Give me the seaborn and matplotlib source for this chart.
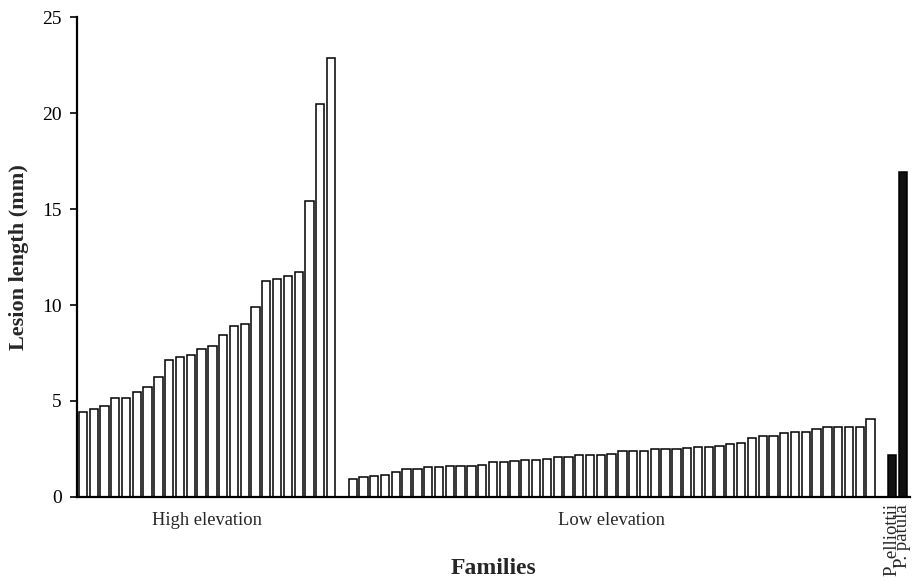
import matplotlib
matplotlib.use("Agg")
import matplotlib.pyplot as plt
import numpy as np
import pandas as pd
import seaborn as sns

# Mean lesion length (mm) per family, sorted within each seed-source group
high_elevation = [4.41, 4.6, 4.74, 5.14, 5.14, 5.47, 5.71, 6.23, 7.15, 7.28,
                  7.4, 7.72, 7.87, 8.44, 8.91, 9.03, 9.88, 11.26, 11.38, 11.52,
                  11.73, 15.41, 20.45, 22.85]
low_elevation = [0.92, 1.02, 1.09, 1.16, 1.28, 1.44, 1.44, 1.55, 1.55, 1.62,
                 1.62, 1.62, 1.68, 1.81, 1.81, 1.88, 1.94, 1.94, 2.0, 2.07,
                 2.07, 2.2, 2.2, 2.2, 2.26, 2.4, 2.41, 2.41, 2.48, 2.48,
                 2.48, 2.53, 2.6, 2.6, 2.67, 2.74, 2.8, 3.06, 3.19, 3.19,
                 3.33, 3.39, 3.39, 3.52, 3.65, 3.65, 3.65, 3.65, 4.05]
check_names = ["P. elliottii", "P. patula"]
check_values = [2.2, 16.95]
group_labels = ["High elevation", "Low elevation"]

# Slot positions along the x axis, leaving one empty slot between groups
# and two before the check species
n_hi, n_lo = len(high_elevation), len(low_elevation)
pos_hi = np.arange(n_hi)
pos_lo = np.arange(n_lo) + n_hi + 1
pos_ck = np.arange(len(check_values)) + pos_lo[-1] + 2

df = pd.DataFrame({
    "pos": np.concatenate([pos_hi, pos_lo, pos_ck]),
    "length": high_elevation + low_elevation + check_values,
    "kind": ["family"] * (n_hi + n_lo) + ["check"] * len(check_values),
})

sns.set_style("white")
plt.rcParams["font.family"] = ["Liberation Serif", "DejaVu Serif"]

fig = plt.figure(figsize=(9.13, 5.81), dpi=100)
ax = fig.add_axes([0.0843, 0.1446, 0.9124, 0.8261])

sns.barplot(data=df, x="pos", y="length", hue="kind",
            palette={"family": "white", "check": "#111111"},
            native_scale=True, dodge=False, width=0.77,
            edgecolor="black", linewidth=1.1, legend=False, ax=ax)

ax.set_xlim(-0.55, pos_ck[-1] + 0.65)
ax.set_ylim(0, 25)
ax.set_yticks(np.arange(0, 26, 5))
ax.tick_params(axis="y", direction="out", length=5, width=1.2,
               labelsize=14, colors="black", pad=6, left=True)

ax.set_xticks(pos_ck)
ax.set_xticklabels(check_names, rotation=90, fontsize=13.5, va="top")
ax.tick_params(axis="x", length=0, pad=5)

sns.despine(ax=ax)
for side in ("left", "bottom"):
    ax.spines[side].set_linewidth(1.6)
    ax.spines[side].set_color("black")

for label, positions in zip(group_labels, [pos_hi, pos_lo]):
    ax.text(positions.mean(), -1.2, label, ha="center", va="center",
            fontsize=13.3, transform=ax.transData)

ax.set_ylabel("Lesion length (mm)", fontsize=16, fontweight="bold")
ax.yaxis.set_label_coords(-0.058, 0.5)
ax.set_xlabel("Families", fontsize=17, fontweight="bold")
ax.xaxis.set_label_coords(0.5, -0.128)

fig.savefig("out.png", dpi=100)
